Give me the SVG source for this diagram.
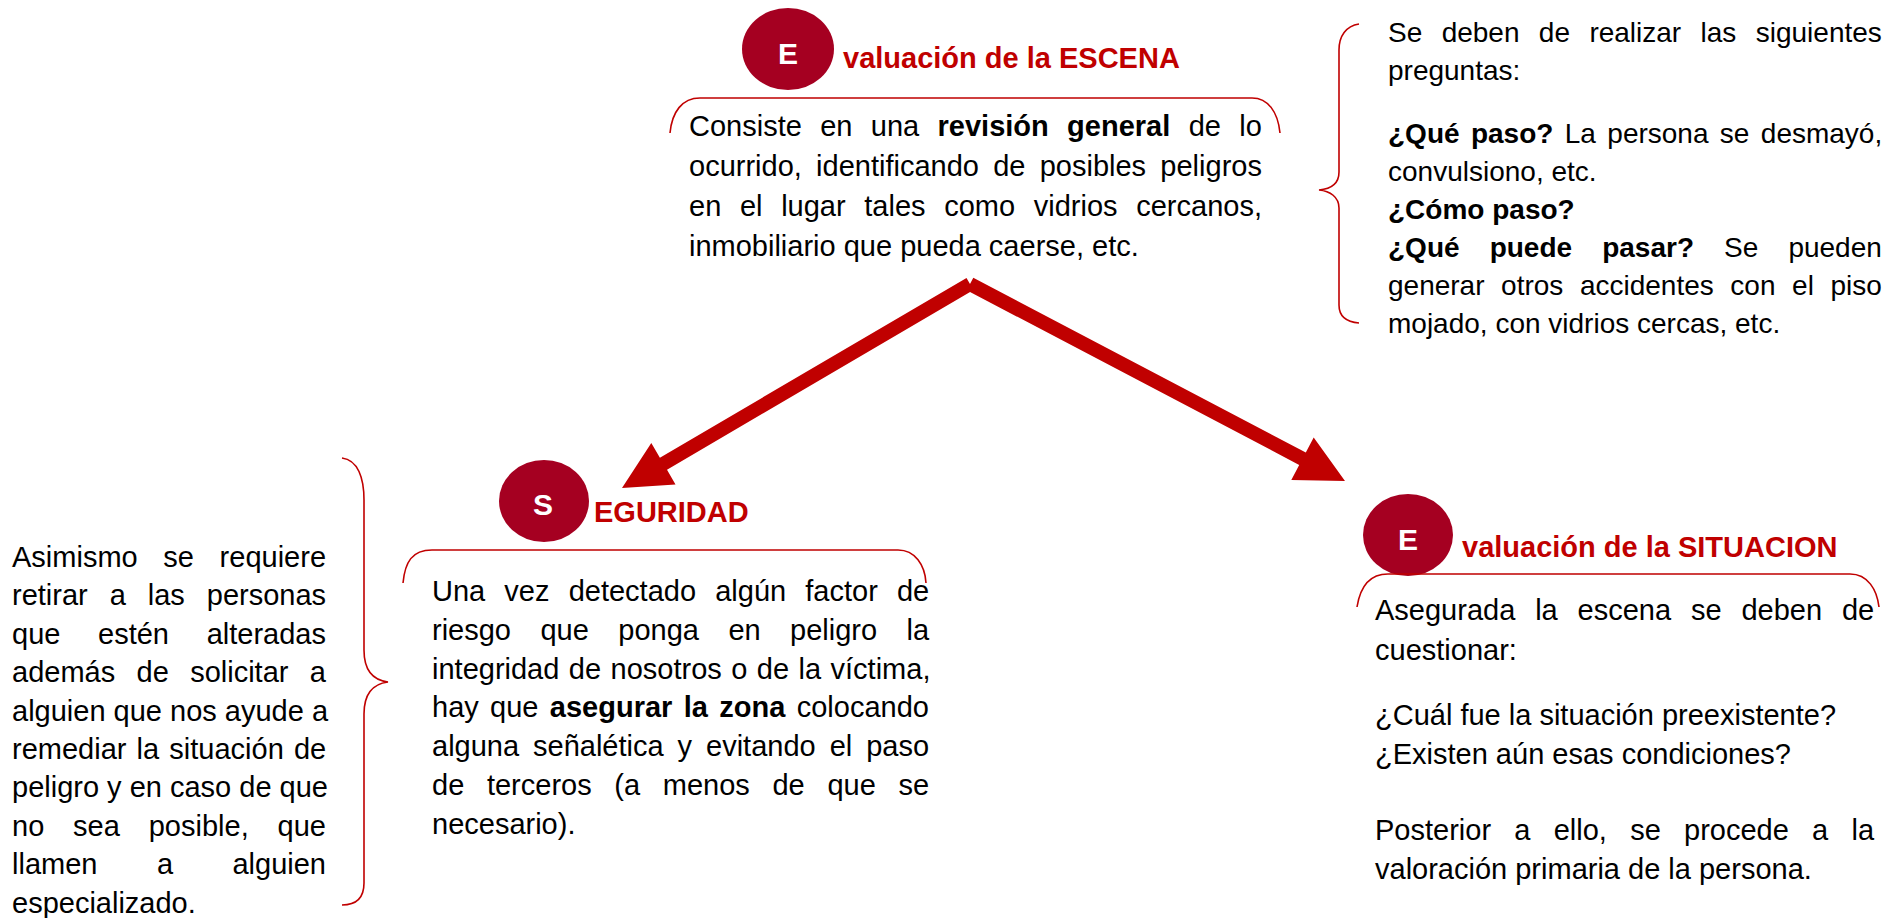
<svg xmlns="http://www.w3.org/2000/svg" width="1900" height="918" viewBox="0 0 1900 918">
<style>
.t{font-family:"Liberation Sans",Arial,sans-serif;font-size:29px;fill:#000}
.s28{font-size:28px}
.b{font-weight:bold}
.ttl{font-family:"Liberation Sans",Arial,sans-serif;font-size:29px;font-weight:bold;fill:#C00000}
.ini{font-family:"Liberation Sans",Arial,sans-serif;font-size:30px;font-weight:bold;fill:#fff;text-anchor:middle}
.br{fill:none;stroke:#C00000;stroke-width:1.6}
.circ{fill:#A50021}
.arr{fill:#C00000}
</style>
<rect width="1900" height="918" fill="#fff"/>

<g id="connectors">
<polygon class="arr" points="966.5,278 973.5,290 667,469.7 675.5,484.4 622,488 651.3,443 659.9,457.7"/>
<polygon class="arr" points="973.3,277.8 966.7,290.2 1299.2,464.9 1291.3,479.9 1345,481 1313.7,437.5 1305.8,452.5"/>
</g>

<g id="node-escena">
<ellipse class="circ" cx="788" cy="49" rx="46" ry="41"/>
<text class="ini" x="788" y="64">E</text>
<text class="ttl" x="843" y="68">valuación de la ESCENA</text>
<path class="br" d="M670 133 C672 112 682 98 700 98 L1252 98 C1268 98 1278 112 1280 133"/>
<text class="t" x="689" y="136" style="word-spacing:10.3px">Consiste en una <tspan class="b">revisión general</tspan> de lo</text>
<text class="t" x="689" y="176" style="word-spacing:6.2px">ocurrido, identificando de posibles peligros</text>
<text class="t" x="689" y="216" style="word-spacing:10.6px">en el lugar tales como vidrios cercanos,</text>
<text class="t" x="689" y="255.5">inmobiliario que pueda caerse, etc.</text>
</g>

<g id="note-preguntas">
<path class="br" d="M1359 24 C1346 26 1339 36 1339 50 L1339 172 C1339 184 1330 189 1319 190 C1330 191 1339 197 1339 208 L1339 305 C1339 316 1346 322 1359 323"/>
<text class="t s28" x="1388" y="42" style="word-spacing:11.6px">Se deben de realizar las siguientes</text>
<text class="t s28" x="1388" y="80">preguntas:</text>
<text class="t s28" x="1388" y="143" style="word-spacing:3.6px"><tspan class="b">¿Qué paso?</tspan> La persona se desmayó,</text>
<text class="t s28" x="1388" y="181">convulsiono, etc.</text>
<text class="t s28 b" x="1388" y="219">¿Cómo paso?</text>
<text class="t s28" x="1388" y="257" style="word-spacing:22.3px"><tspan class="b">¿Qué puede pasar?</tspan> Se pueden</text>
<text class="t s28" x="1388" y="295" style="word-spacing:8.8px">generar otros accidentes con el piso</text>
<text class="t s28" x="1388" y="333">mojado, con vidrios cercas, etc.</text>
</g>

<g id="note-asimismo">
<path class="br" d="M342 458 C358 460 364 478 364 500 L364 650 C364 670 372 680 388 682 C372 684 364 694 364 714 L364 883 C364 898 356 905 342 905"/>
<text class="t" x="12" y="567" style="word-spacing:17.6px">Asimismo se requiere</text>
<text class="t" x="12" y="605.4" style="word-spacing:13.9px">retirar a las personas</text>
<text class="t" x="12" y="643.8" style="word-spacing:29.6px">que estén alteradas</text>
<text class="t" x="12" y="682.2" style="word-spacing:13.3px">además de solicitar a</text>
<text class="t" x="12" y="720.6">alguien que nos ayude a</text>
<text class="t" x="12" y="759" style="word-spacing:2.1px">remediar la situación de</text>
<text class="t" x="12" y="797.4">peligro y en caso de que</text>
<text class="t" x="12" y="835.8" style="word-spacing:20.8px">no sea posible, que</text>
<text class="t" x="12" y="874.2" style="word-spacing:51.4px">llamen a alguien</text>
<text class="t" x="12" y="912.6">especializado.</text>
</g>

<g id="node-seguridad">
<ellipse class="circ" cx="544" cy="501" rx="45" ry="41"/>
<text class="ini" x="543" y="515">S</text>
<text class="ttl" x="594" y="522">EGURIDAD</text>
<path class="br" d="M403 583 C405 562 412 550 432 550 L898 550 C915 550 925 565 926 583"/>
<text class="t" x="432" y="601" style="word-spacing:11.1px">Una vez detectado algún factor de</text>
<text class="t" x="432" y="640" style="word-spacing:21.4px">riesgo que ponga en peligro la</text>
<text class="t" x="432" y="679" style="word-spacing:1.4px">integridad de nosotros o de la víctima,</text>
<text class="t" x="432" y="717" style="word-spacing:3.3px">hay que <tspan class="b">asegurar la zona</tspan> colocando</text>
<text class="t" x="432" y="756" style="word-spacing:5.9px">alguna señalética y evitando el paso</text>
<text class="t" x="432" y="795" style="word-spacing:14.6px">de terceros (a menos de que se</text>
<text class="t" x="432" y="834">necesario).</text>
</g>

<g id="node-situacion">
<ellipse class="circ" cx="1408" cy="535" rx="45" ry="41"/>
<text class="ini" x="1408" y="550">E</text>
<text class="ttl" x="1462" y="557">valuación de la SITUACION</text>
<path class="br" d="M1357 607 C1360 588 1368 574 1388 574 L1850 574 C1868 574 1877 590 1879 607"/>
<text class="t" x="1375" y="620" style="word-spacing:11.8px">Asegurada la escena se deben de</text>
<text class="t" x="1375" y="660">cuestionar:</text>
<text class="t" x="1375" y="725">¿Cuál fue la situación preexistente?</text>
<text class="t" x="1375" y="764">¿Existen aún esas condiciones?</text>
<text class="t" x="1375" y="840" style="word-spacing:15.2px">Posterior a ello, se procede a la</text>
<text class="t" x="1375" y="879">valoración primaria de la persona.</text>
</g>
</svg>
